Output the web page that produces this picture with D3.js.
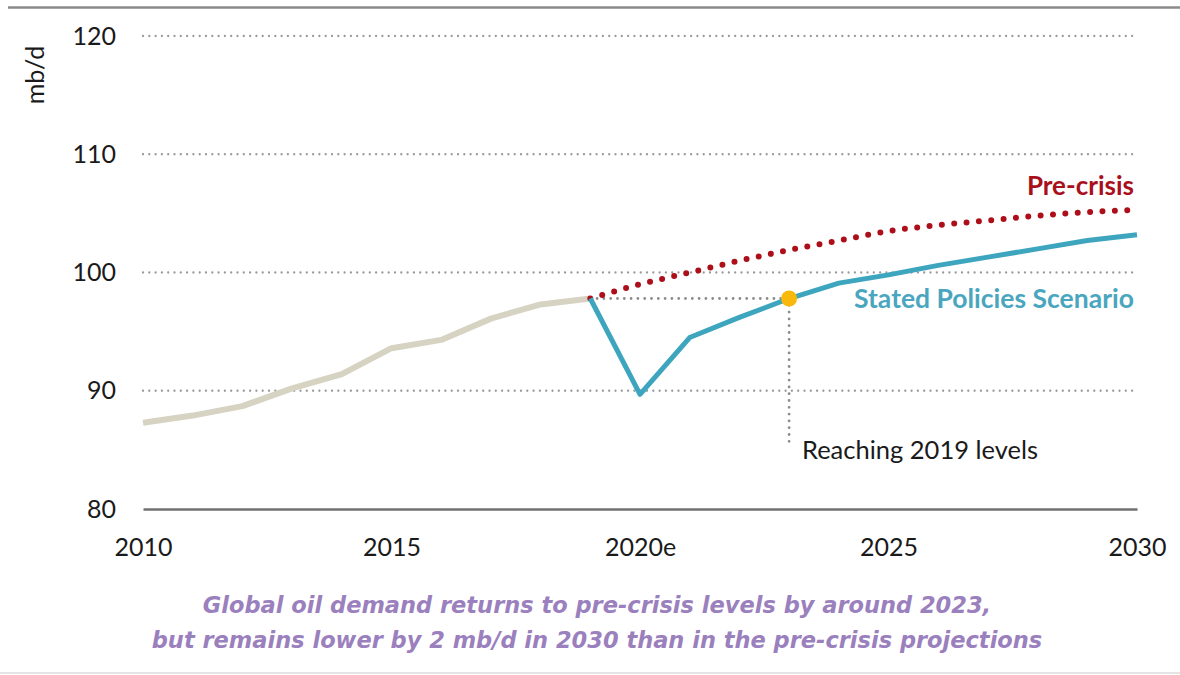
<!DOCTYPE html>
<html>
<head>
<meta charset="utf-8">
<script src="https://cdn.jsdelivr.net/npm/d3@7"></script>
<style>
  body { margin: 0; background: #fff; }
  svg { display: block; }
</style>
</head>
<body>
<svg width="1180" height="675"></svg>
<script>
// values
let histYears = [2010, 2011, 2012, 2013, 2014, 2015, 2016, 2017, 2018, 2019];
let histValues = [87.3, 87.9, 88.7, 90.2, 91.4, 93.6, 94.3, 96.1, 97.3, 97.8];

let projYears = [2019, 2020, 2021, 2022, 2023, 2024, 2025, 2026, 2027, 2028, 2029, 2030];
let statedValues = [97.8, 89.7, 94.5, 96.2, 97.8, 99.1, 99.8, 100.6, 101.3, 102.0, 102.7, 103.2];
let preCrisisValues = [97.8, 99.0, 100.0, 101.0, 101.9, 102.7, 103.5, 104.0, 104.4, 104.8, 105.1, 105.3];

let yTicks = [80, 90, 100, 110, 120];
let xTicks = [2010, 2015, 2020, 2025, 2030];
let xTickLabels = ['2010', '2015', '2020e', '2025', '2030'];

let reachYear = 2023;
let level2019 = 97.8;

var svg = d3.select("svg"),
width = +svg.attr("width"),
height = +svg.attr("height");

let x = d3.scaleLinear().domain([2010, 2030]).range([143, 1137]);
let y = d3.scaleLinear().domain([80, 120]).range([509, 36]);

let zip = (xs, vs) => xs.map((d, i) => ({ year: d, value: vs[i] }));

// frame lines at top and bottom
svg.append('line')
.attr('x1', 8).attr('x2', width).attr('y1', 7.5).attr('y2', 7.5)
.attr('stroke', '#8a8a8a').attr('stroke-width', 2.5);
svg.append('line')
.attr('x1', 0).attr('x2', width).attr('y1', 673).attr('y2', 673)
.attr('stroke', '#e4e4e4').attr('stroke-width', 2);

// dotted gridlines
svg.append('g')
.selectAll('line')
.data(yTicks.filter(d => d > 80))
.enter()
.append('line')
.attr('x1', x(2010)).attr('x2', 1135)
.attr('y1', d => y(d)).attr('y2', d => y(d))
.attr('stroke', '#999')
.attr('stroke-width', 2.3)
.attr('stroke-linecap', 'round')
.attr('stroke-dasharray', '0 6.3');

// base axis
let xAxis = d3.axisBottom(x)
.tickValues(xTicks)
.tickSize(0)
.tickPadding(29)
.tickFormat((d, i) => xTickLabels[i]);
let gx = svg.append('g')
.attr('transform', `translate(0,${y(80)})`)
.call(xAxis);
gx.select('.domain').attr('stroke', '#707070').attr('stroke-width', 2.5);
gx.selectAll('text')
.style('font-family', 'Lato, sans-serif')
.style('font-size', '25px')
.attr('fill', '#1a1a1a');

let yAxis = d3.axisLeft(y).tickValues(yTicks).tickSize(0).tickPadding(0);
let gy = svg.append('g')
.attr('transform', 'translate(116,0)')
.call(yAxis);
gy.select('.domain').remove();
gy.selectAll('text')
.style('font-family', 'Lato, sans-serif')
.style('font-size', '25px')
.attr('fill', '#1a1a1a');

svg.append('text')
.attr('transform', 'translate(44,75) rotate(-90)')
.attr('text-anchor', 'middle')
.style('font-family', 'Lato, sans-serif')
.style('font-size', '25px')
.attr('fill', '#1a1a1a')
.text('mb/d');

// reference lines for the 2019 level
svg.append('line')
.attr('x1', x(2019)).attr('x2', x(reachYear))
.attr('y1', y(level2019)).attr('y2', y(level2019))
.attr('stroke', '#8c8c8c').attr('stroke-width', 2.8)
.attr('stroke-linecap', 'round').attr('stroke-dasharray', '0 6.8');
svg.append('line')
.attr('x1', x(reachYear)).attr('x2', x(reachYear))
.attr('y1', y(level2019)).attr('y2', 448)
.attr('stroke', '#8c8c8c').attr('stroke-width', 2.8)
.attr('stroke-linecap', 'round').attr('stroke-dasharray', '0 6.8');

let line = d3.line()
.x(d => x(d.year))
.y(d => y(d.value));

svg.append('path')
.datum(zip(histYears, histValues))
.attr('d', line)
.attr('fill', 'none')
.attr('stroke', '#d6d3c3')
.attr('stroke-width', 6)
.attr('stroke-linejoin', 'round');

svg.append('path')
.datum(zip(projYears, preCrisisValues))
.attr('d', d3.line().curve(d3.curveMonotoneX).x(d => x(d.year)).y(d => y(d.value)))
.attr('fill', 'none')
.attr('stroke', '#ad0f1a')
.attr('stroke-width', 6)
.attr('stroke-linecap', 'round')
.attr('stroke-dasharray', '0 12.4');

svg.append('path')
.datum(zip(projYears, statedValues))
.attr('d', line)
.attr('fill', 'none')
.attr('stroke', '#3ea5bf')
.attr('stroke-width', 5)
.attr('stroke-linejoin', 'round');

svg.append('circle')
.attr('cx', x(reachYear))
.attr('cy', y(level2019))
.attr('r', 8)
.attr('fill', '#f8b80c');

// annotations
svg.append('text')
.attr('x', 1134).attr('y', 195)
.attr('text-anchor', 'end')
.style('font-family', 'Lato, sans-serif')
.style('font-weight', 'bold')
.style('font-size', '26px')
.attr('fill', '#a8101b')
.text('Pre-crisis');

svg.append('text')
.attr('x', 1134).attr('y', 308)
.attr('text-anchor', 'end')
.style('font-family', 'Lato, sans-serif')
.style('font-weight', 'bold')
.style('font-size', '26.5px')
.attr('fill', '#4aa6bf')
.text('Stated Policies Scenario');

svg.append('text')
.attr('x', 802).attr('y', 459)
.style('font-family', 'Lato, sans-serif')
.style('font-size', '25.5px')
.attr('fill', '#1a1a1a')
.text('Reaching 2019 levels');

let captionLines = [
  'Global oil demand returns to pre-crisis levels by around 2023,',
  'but remains lower by 2 mb/d in 2030 than in the pre-crisis projections'
];
svg.append('g')
.selectAll('text')
.data(captionLines)
.enter()
.append('text')
.attr('x', 597)
.attr('y', (d, i) => 613 + i * 35)
.attr('text-anchor', 'middle')
.style('font-family', '"DejaVu Sans", sans-serif')
.style('font-weight', 'bold')
.style('font-style', 'italic')
.style('font-size', '22.5px')
.attr('fill', '#9b80be')
.text(d => d);
</script>
</body>
</html>
